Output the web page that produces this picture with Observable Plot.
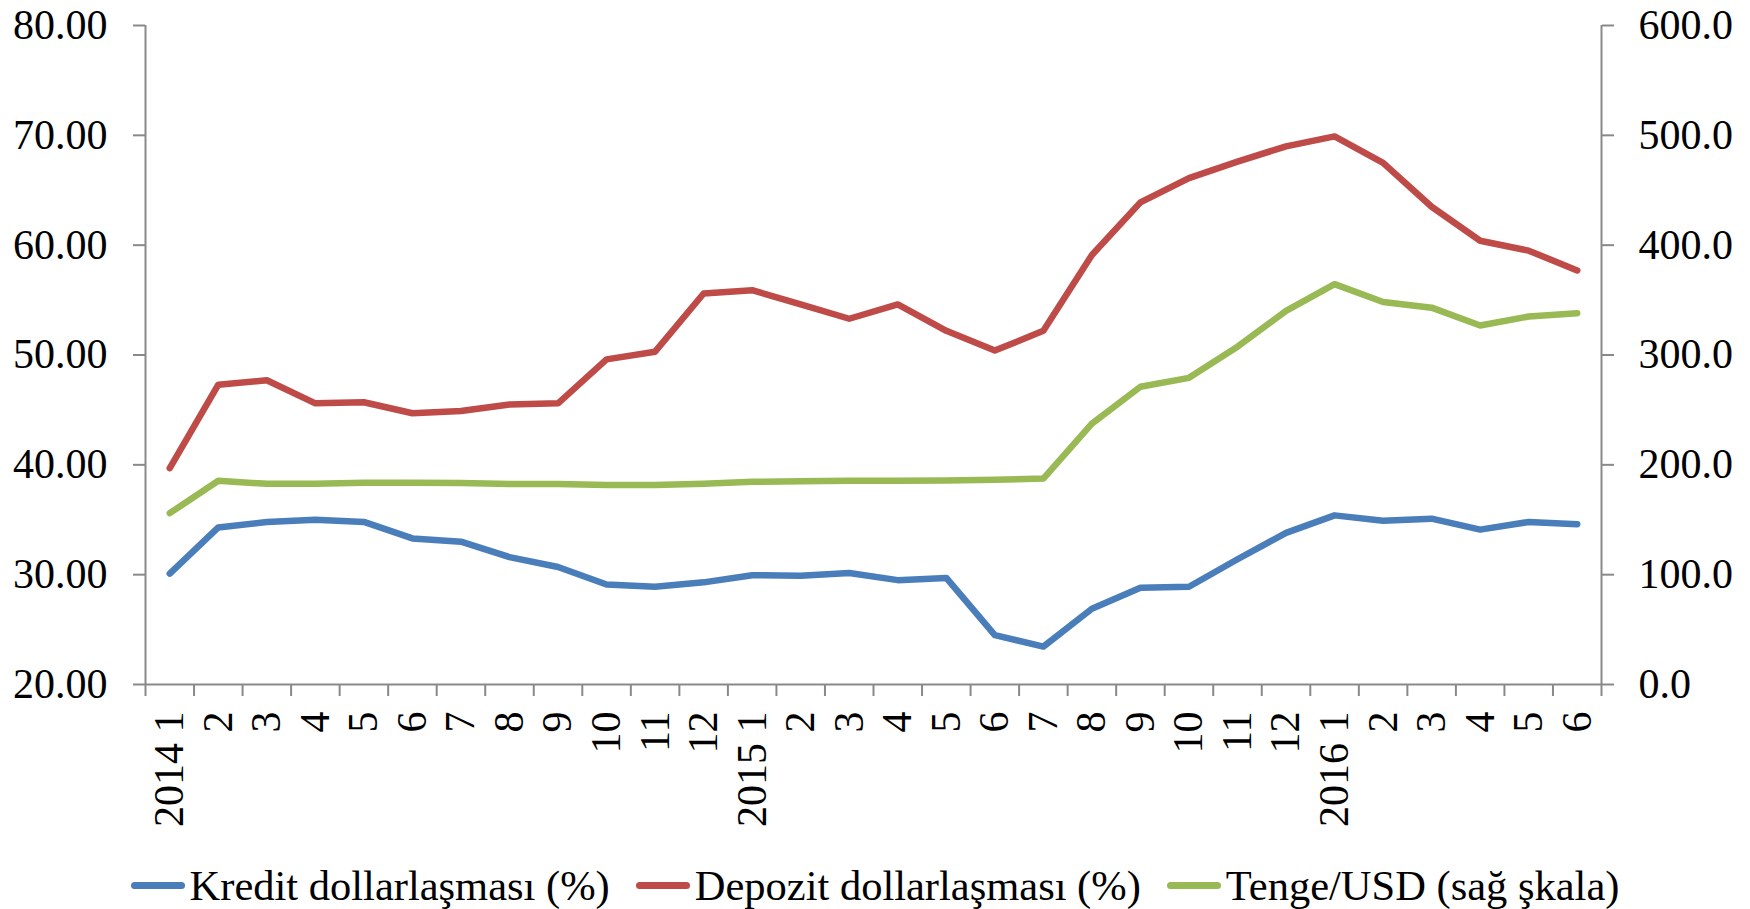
<!DOCTYPE html>
<html>
<head>
<meta charset="utf-8">
<script src="https://cdn.jsdelivr.net/npm/d3@7"></script>
<script src="https://cdn.jsdelivr.net/npm/@observablehq/plot@0.6"></script>
<style>
  html, body { margin: 0; padding: 0; background: #fff; }
  #chart { width: 1750px; }
  .legend { display: flex; justify-content: center; align-items: center; height: 59px; padding-top: 12px; box-sizing: border-box;
    font-family: "Liberation Serif", "Times New Roman", serif; font-size: 42.5px; color: #000; line-height: 46px; }
  .legend .item { display: flex; align-items: center; margin: 0 13px; }
  .legend .sw { width: 54px; height: 7px; border-radius: 3.5px; margin-right: 5px; }
</style>
</head>
<body>
<div id="chart"></div>
<div class="legend" id="legend"></div>
<script>
// Category labels (month index along the x axis)
const periods = [
  "2014 1","2","3","4","5","6","7","8","9","10","11","12",
  "2015 1","2","3","4","5","6","7","8","9","10","11","12",
  "2016 1","2","3","4","5","6"
];
// Kredit dollarlaşması (%) — left scale
const kredit = [30.1, 34.3, 34.8, 35.0, 34.8, 33.3, 33.0, 31.6, 30.7, 29.1, 28.9, 29.3,
                29.95, 29.9, 30.15, 29.5, 29.7, 24.5, 23.45, 26.9, 28.8, 28.9, 31.4, 33.8,
                35.4, 34.9, 35.1, 34.1, 34.8, 34.6];
// Depozit dollarlaşması (%) — left scale
const depozit = [39.7, 47.3, 47.7, 45.6, 45.7, 44.7, 44.9, 45.5, 45.6, 49.6, 50.3, 55.6,
                 55.9, 54.6, 53.3, 54.6, 52.2, 50.4, 52.2, 59.1, 63.9, 66.1, 67.6, 69.0,
                 69.9, 67.5, 63.5, 60.4, 59.5, 57.7];
// Tenge/USD — right scale
const tenge = [156.0, 185.5, 182.7, 182.7, 183.6, 183.6, 183.4, 182.5, 182.5, 181.7, 181.7, 182.7,
               184.6, 185.0, 185.6, 185.5, 185.8, 186.4, 187.5, 237.6, 271.1, 279.2, 307.6, 340.1,
               364.5, 348.2, 343.1, 326.9, 335.0, 338.1];

const leftTicks = [20, 30, 40, 50, 60, 70, 80];
const rightTicks = [0, 100, 200, 300, 400, 500, 600];

const seriesNames = ["Kredit dollarlaşması (%)", "Depozit dollarlaşması (%)", "Tenge/USD (sağ şkala)"];
const seriesColors = ["#4a7ebb", "#be4b48", "#98b954"];

// right scale mapped onto the left scale
const r2l = d3.scaleLinear([0, 600], [20, 80]);

const rows = [];
periods.forEach((p, i) => {
  rows.push({i, v: kredit[i], s: seriesNames[0]});
  rows.push({i, v: depozit[i], s: seriesNames[1]});
  rows.push({i, v: r2l(tenge[i]), s: seriesNames[2]});
});

const boundaries = d3.range(periods.length + 1).map(i => i - 0.5);
const centers = d3.range(periods.length);
const axisColor = "#898989";
const font = "Liberation Serif, Times New Roman, serif";

const chart = Plot.plot({
  width: 1750,
  height: 850,
  marginLeft: 145,
  marginRight: 149,
  marginTop: 25,
  marginBottom: 166,
  style: {fontFamily: font, fontSize: "42px", color: "#000", background: "#fff"},
  x: {type: "linear", domain: [-0.5, periods.length - 0.5]},
  y: {domain: [20, 80]},
  color: {domain: seriesNames, range: seriesColors},
  marks: [
    Plot.axisY(leftTicks, {anchor: "left", tickSize: 12, tickPadding: 26, stroke: axisColor, strokeWidth: 2,
      tickFormat: d => d.toFixed(2), fill: "#000", label: null}),
    Plot.axisY(rightTicks.map(r2l), {anchor: "right", tickSize: 12, tickPadding: 25, stroke: axisColor, strokeWidth: 2,
      tickFormat: d => r2l.invert(d).toFixed(1), fill: "#000", label: null}),
    Plot.axisX(boundaries, {anchor: "bottom", tickSize: 12, tickFormat: () => "", stroke: axisColor, strokeWidth: 2, label: null}),
    Plot.axisX(centers, {anchor: "bottom", tickSize: 0, tickPadding: 27, tickRotate: -90,
      tickFormat: i => periods[i], fill: "#000", label: null}),
    Plot.ruleX([-0.5, periods.length - 0.5], {stroke: axisColor, strokeWidth: 2}),
    Plot.ruleY([20], {stroke: axisColor, strokeWidth: 2}),
    Plot.line(rows, {x: "i", y: "v", z: "s", stroke: "s", strokeWidth: 6.5, strokeLinecap: "round", strokeLinejoin: "round"})
  ]
});
document.getElementById("chart").appendChild(chart);

const legend = document.getElementById("legend");
seriesNames.forEach((name, k) => {
  const item = document.createElement("div");
  item.className = "item";
  const sw = document.createElement("div");
  sw.className = "sw";
  sw.style.background = seriesColors[k];
  const t = document.createElement("span");
  t.textContent = name;
  item.appendChild(sw);
  item.appendChild(t);
  legend.appendChild(item);
});
</script>
</body>
</html>
